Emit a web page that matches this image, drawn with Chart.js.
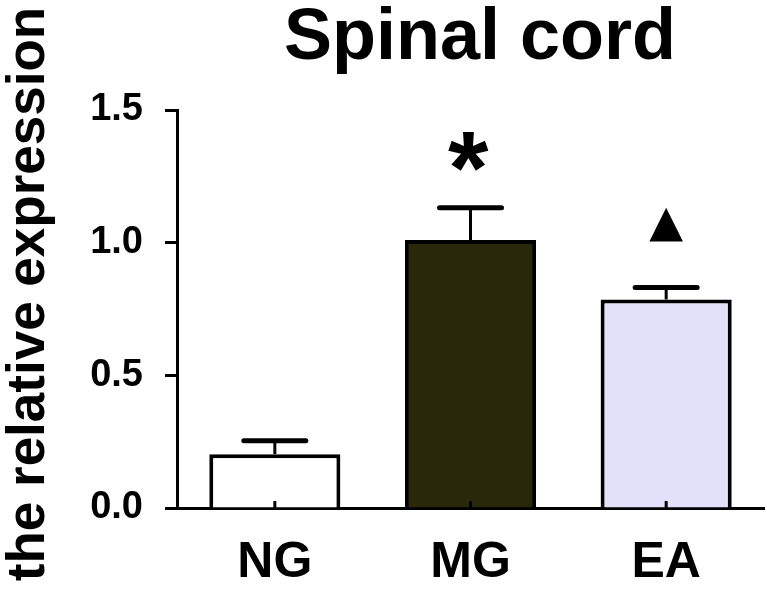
<!DOCTYPE html>
<html>
<head>
<meta charset="utf-8">
<script src="https://cdn.jsdelivr.net/npm/chart.js@4"></script>
<style>
  html, body { margin: 0; padding: 0; background: #fff; }
  #wrap { width: 767px; height: 591px; }
</style>
</head>
<body>
<div id="wrap"><canvas id="chart"></canvas></div>
<script>
const groups = ['NG', 'MG', 'EA'];
const means = [0.203, 1.01, 0.786];
const sems = [0.05, 0.122, 0.045];
const marks = ['', '*', '▲'];
const yTicks = [0, 0.5, 1.0, 1.5];
const barColors = ['#ffffff', '#2a280b', '#e1e1fa'];

const FONT = "'Liberation Sans', Arial, sans-serif";

// draw text centred on its real ink box
const drawCentered = (ctx, text, cx, cy) => {
  const m = ctx.measureText(text);
  const w = m.actualBoundingBoxLeft + m.actualBoundingBoxRight;
  const h = m.actualBoundingBoxAscent + m.actualBoundingBoxDescent;
  ctx.textAlign = 'left';
  ctx.textBaseline = 'alphabetic';
  ctx.fillText(text, cx - w / 2 + m.actualBoundingBoxLeft, cy - h / 2 + m.actualBoundingBoxAscent);
};

const errorBars = {
  id: 'errorBars',
  afterDatasetsDraw(chart) {
    const { ctx, scales: { x, y } } = chart;
    ctx.save();
    ctx.strokeStyle = '#000';
    ctx.fillStyle = '#000';
    means.forEach((m, i) => {
      const cx = x.getPixelForValue(i);
      const y0 = y.getPixelForValue(m);
      const y1 = y.getPixelForValue(m + sems[i]);
      ctx.lineWidth = 3;
      ctx.lineCap = 'butt';
      ctx.beginPath();
      ctx.moveTo(cx, y0);
      ctx.lineTo(cx, y1);
      ctx.stroke();
      ctx.lineWidth = 5;
      ctx.lineCap = 'round';
      ctx.beginPath();
      ctx.moveTo(cx - 31, y1);
      ctx.lineTo(cx + 31, y1);
      ctx.stroke();

      // little inward tick at the category centre
      ctx.lineWidth = 3;
      ctx.lineCap = 'butt';
      ctx.beginPath();
      ctx.moveTo(cx, y.bottom);
      ctx.lineTo(cx, y.bottom - 7);
      ctx.stroke();

      if (marks[i] === '*') {
        ctx.font = `bold 104px ${FONT}`;
        drawCentered(ctx, marks[i], cx - 2, y1 - 56);
      } else if (marks[i]) {
        ctx.font = `44px 'DejaVu Sans', sans-serif`;
        drawCentered(ctx, marks[i], cx, y1 - 63);
      }
    });
    ctx.restore();
  },
  afterDraw(chart) {
    const { ctx } = chart;
    ctx.save();
    ctx.fillStyle = '#000';
    ctx.font = `bold 72px ${FONT}`;
    ctx.textAlign = 'center';
    ctx.textBaseline = 'alphabetic';
    ctx.fillText('Spinal cord', 480, 59);

    ctx.translate(44, 294);
    ctx.rotate(-Math.PI / 2);
    ctx.font = `bold 53px ${FONT}`;
    ctx.fillText('the relative expression', 0, 0);
    ctx.restore();
  },
};

const ctx = document.getElementById('chart').getContext('2d');

new Chart(ctx, {
  type: 'bar',
  data: {
    labels: groups,
    datasets: [
      {
        data: means,
        backgroundColor: barColors,
        borderColor: '#000',
        borderWidth: 4,
        barPercentage: 0.67,
        categoryPercentage: 1,
      },
    ],
  },
  options: {
    responsive: true,
    maintainAspectRatio: false,
    animation: false,
    layout: {
      padding: { left: 0, top: 110, right: 3, bottom: 0 },
    },
    plugins: {
      legend: { display: false },
      tooltip: { enabled: false },
    },
    scales: {
      x: {
        afterFit: (scale) => {
          scale.height = 83;
        },
        border: { display: true, width: 3, color: '#000' },
        grid: { drawOnChartArea: false, drawTicks: false, color: 'transparent' },
        ticks: {
          color: '#000',
          padding: 30,
          font: { size: 50, weight: 'bold', family: FONT, lineHeight: 1 },
        },
      },
      y: {
        min: 0,
        max: 1.5,
        afterFit: (scale) => {
          scale.width = 177;
        },
        afterBuildTicks: (scale) => {
          scale.ticks = yTicks.map((v) => ({ value: v }));
        },
        border: { display: true, width: 3, color: '#000' },
        grid: { drawOnChartArea: false, tickLength: 12, tickWidth: 3, color: '#000' },
        ticks: {
          color: '#000',
          padding: 22,
          font: { size: 38, weight: 'bold', family: FONT },
          callback: (v) => v.toFixed(1),
        },
      },
    },
  },
  plugins: [errorBars],
});
</script>
</body>
</html>
